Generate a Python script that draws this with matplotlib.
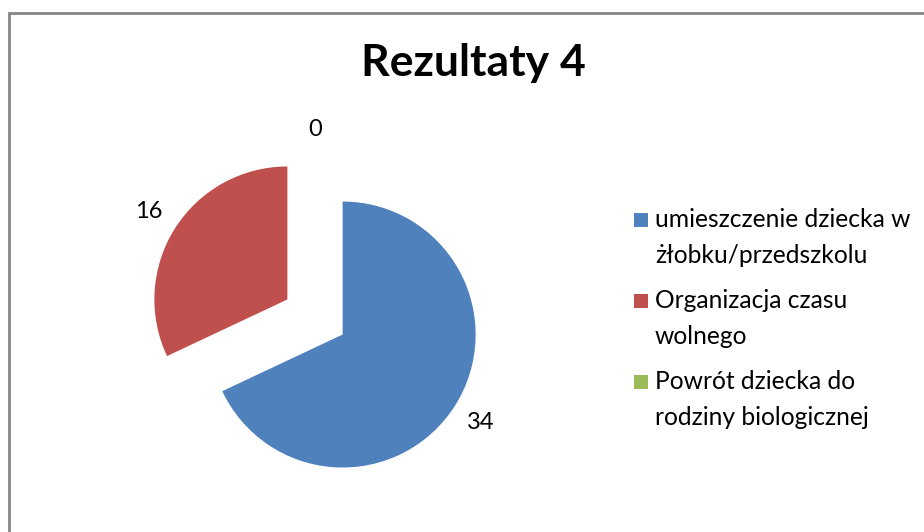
import matplotlib.pyplot as plt
from matplotlib.patches import Rectangle

# data
categories = ['umieszczenie dziecka w\nżłobku/przedszkolu',
              'Organizacja czasu\nwolnego',
              'Powrót dziecka do\nrodziny biologicznej']
values = [34, 16, 0]
colors = ['#4F81BD', '#C0504D', '#9BBB59']
explode = [0.246, 0.246, 0.18]

plt.rcParams['font.family'] = ['Lato', 'DejaVu Sans']

W, H = 924, 532
fig = plt.figure(figsize=(W / 100, H / 100), dpi=100)

# chart frame
fig.patches.append(Rectangle((9 / W, -0.1), 1.2, (H - 12.5) / H + 0.1,
                             transform=fig.transFigure, fill=False,
                             edgecolor='#868686', linewidth=2))

# pie: radius 133px, centre at (315, 317)
r = 133
cx, cy = 315, H - 317
span = 1.6
ax = fig.add_axes([(cx - span * r) / W, (cy - span * r) / H,
                   2 * span * r / W, 2 * span * r / H])
wedges, texts = ax.pie(values, colors=colors, explode=explode,
                       labels=[str(v) for v in values],
                       startangle=90, counterclock=False,
                       labeldistance=1.23,
                       wedgeprops={'linewidth': 0},
                       textprops={'fontsize': 17})
ax.set_xlim(-span, span)
ax.set_ylim(-span, span)
ax.axis('off')
for t in texts:
    t.set_ha('center')
    t.set_va('center')

fig.text(473 / W, 1 - 76 / H, 'Rezultaty 4', ha='center', va='baseline',
         fontsize=32, fontweight='bold')

# legend, drawn by hand to get the line spacing of the original
y0, step = 227, 81
for i, (lab, c) in enumerate(zip(categories, colors)):
    yb = y0 + i * step
    fig.patches.append(Rectangle((634 / W, 1 - yb / H), 14 / W, 14 / H,
                                 transform=fig.transFigure,
                                 facecolor=c, edgecolor='none'))
    first, second = lab.split('\n')
    fig.text(655 / W, 1 - yb / H, first, ha='left', va='baseline',
             fontsize=17.7)
    fig.text(655 / W, 1 - (yb + 36) / H, second, ha='left', va='baseline',
             fontsize=17.7)

fig.savefig('out.png', dpi=100)
